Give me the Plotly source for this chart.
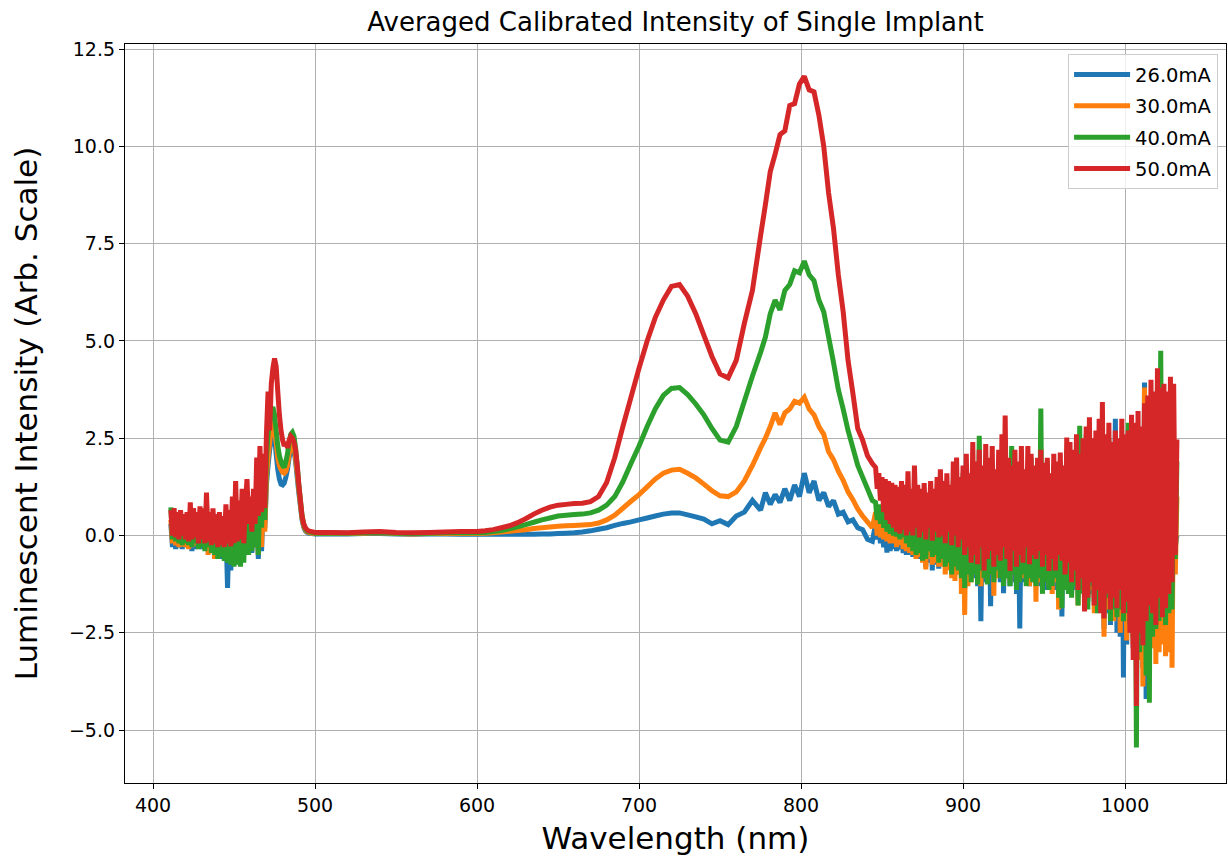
import plotly.graph_objects as go

# Wavelength sampling grid (nm)
wl_blue_edge = list(range(411, 471))          # 411..470, 1 nm
wl_peak = [471, 472, 473, 474, 475, 476, 477, 478, 479, 480, 481, 482, 483, 484,
           485, 486, 487, 488, 489, 490, 491, 492, 493, 494, 495, 496, 498, 500]
wl_flat = [510, 520, 530, 540, 550, 560, 570, 580, 590]
wl_rise = [600, 605, 610, 615, 620, 625, 630, 635, 640, 645, 650, 655, 660, 665,
           670, 675, 680, 685, 690, 695, 700, 705, 710, 715, 720, 725, 730, 735,
           740, 745, 750, 755, 760, 765, 770, 775]
wl_top = [778, 781, 784, 787, 790, 793, 796, 799, 802, 805, 808, 811, 814, 817,
          820, 823, 826, 829, 832, 835, 838, 841, 844]
wl_ir = list(range(846, 1033))               # 846..1032, 1 nm
wavelength = wl_blue_edge + wl_peak + wl_flat + wl_rise + wl_top + wl_ir

series_names = ["26.0mA", "30.0mA", "40.0mA", "50.0mA"]
series_colors = ["#1f77b4", "#ff7f0e", "#2ca02c", "#d62728"]

i_26mA = (
    [0.3, -0.3, 0.25, -0.35, 0.2, -0.3, 0.25, -0.35, 0.2, -0.3,
     0.25, -0.3, 0.3, -0.4, 0.25, -0.35, 0.2, -0.3, 0.25, -0.35,
     0.2, -0.3, 0.3, -0.35, 0.35, -0.4, 0.25, -0.45, 0.2, -0.4,
     0.25, -0.6, 0.3, -0.5, 0.2, -1.35, 0.25, -0.9, 0.3, -0.7,
     0.35, -0.7, 0.4, -0.55, 0.45, -0.5, 0.4, 0.5, -0.4, 0.5,
     -0.45, 0.6, -0.3, 0.7, -0.6, 0.8, -0.4, 0.9, 0.2, 1.3]
    + [1.8, 2.2, 2.5, 2.7, 2.5, 2.1, 1.7, 1.45, 1.32, 1.3, 1.35, 1.5, 1.7, 2.0,
       2.2, 2.3, 2.2, 1.9, 1.5, 1.1, 0.75, 0.4, 0.22, 0.12, 0.08, 0.06, 0.05, 0.04]
    + [0.04, 0.04, 0.05, 0.05, 0.04, 0.03, 0.04, 0.04, 0.03]
    + [0.03, 0.03, 0.03, 0.03, 0.03, 0.03, 0.03, 0.03, 0.04, 0.04,
       0.05, 0.06, 0.07, 0.09, 0.12, 0.16, 0.2, 0.26, 0.31, 0.35,
       0.4, 0.45, 0.5, 0.55, 0.58, 0.58, 0.53, 0.48, 0.42, 0.3,
       0.38, 0.28, 0.5, 0.6, 0.9, 0.65]
    + [1.1, 0.8, 1.05, 0.85, 1.2, 0.9, 1.3, 1.0, 1.6, 1.1,
       1.4, 0.9, 1.1, 0.75, 0.9, 0.55, 0.6, 0.35, 0.4, 0.2,
       0.15, -0.1, -0.15]
    + [0.3, -0.1, 0.25, -0.2, 0.2, -0.3, 0.3, -0.44, 0.25, -0.4,
       0.3, -0.35, 0.2, -0.4, 0.3, -0.36, 0.35, -0.45, 0.3, -0.5,
       0.4, -0.5, 0.35, -0.55, 0.45, -0.5, 0.4, -0.6, 0.5, -0.55,
       0.45, -0.8, 0.5, -0.7, 0.55, -0.9, 0.5, -0.75, 0.6, -0.85,
       0.6, -0.7, 0.55, -0.8, 0.65, -0.75, 0.6, -0.85, 0.7, -0.9,
       0.7, -1.0, 0.65, -0.9, 0.75, -1.1, 0.7, -1.2, 0.8, -1.0,
       0.8, -1.1, 0.7, -1.3, 0.9, -2.2, 0.8, -1.2, 0.7, -1.1,
       0.9, -1.82, 0.8, -1.1, 0.9, -1.0, 1.0, -1.2, 0.8, -1.48,
       1.0, -1.1, 0.9, -1.3, 1.0, -1.2, 1.1, -1.5, 1.0, -2.39,
       0.9, -1.2, 1.1, -1.1, 1.0, -1.3, 0.9, -1.2, 1.1, -1.25,
       1.0, -1.3, 1.2, -1.2, 1.1, -1.4, 1.0, -1.25, 1.2, -1.3,
       1.1, -1.4, 1.3, -1.3, 1.2, -2.08, 1.1, -1.4, 1.3, -1.3,
       1.2, -1.5, 1.4, -1.4, 1.3, -1.6, 1.2, -1.35, 1.4, -1.7,
       1.3, -1.7, 1.5, -1.5, 1.4, -1.8, 1.6, -1.6, 1.5, -1.9,
       1.6, -2.4, 1.7, -2.0, 1.5, -2.3, 1.8, -2.2, 3.0, -2.5,
       1.7, -2.6, 1.9, -3.65, 1.8, -2.8, 2.0, -2.5, 2.2, -2.9,
       2.3, -3.2, 2.5, -3.0, 2.4, -3.4, 3.93, -4.2, 2.6, -3.5,
       2.8, -2.4, 3.0, -2.6, 2.9, -2.2, 3.1, -2.5, 3.0, -2.3,
       2.9, -2.0, 3.0, -1.6, 2.0, -0.3, 0.0]
)

i_30mA = (
    [0.4, -0.2, 0.35, -0.25, 0.3, -0.3, 0.35, -0.28, 0.3, -0.3,
     0.35, -0.35, 0.45, -0.3, 0.4, -0.25, 0.3, -0.3, 0.35, -0.25,
     0.3, -0.3, 0.5, -0.5, 0.4, -0.45, 0.3, -0.6, 0.25, -0.4,
     0.3, -0.45, 0.25, -0.4, 0.35, -0.55, 0.3, -0.5, 0.4, -0.6,
     0.5, -0.5, 0.45, -0.45, 0.6, -0.4, 0.5, 0.7, -0.35, 0.6,
     -0.3, 0.7, -0.2, 0.8, -0.5, 0.9, -0.3, 1.0, 0.1, 1.5]
    + [2.0, 2.4, 2.8, 2.9, 2.7, 2.4, 2.0, 1.8, 1.7, 1.62, 1.6, 1.65, 1.8, 2.1,
       2.3, 2.4, 2.3, 2.0, 1.6, 1.2, 0.8, 0.45, 0.25, 0.15, 0.1, 0.08, 0.06, 0.05]
    + [0.05, 0.05, 0.06, 0.07, 0.05, 0.04, 0.05, 0.05, 0.05]
    + [0.05, 0.06, 0.07, 0.09, 0.11, 0.13, 0.15, 0.18, 0.2, 0.22,
       0.24, 0.25, 0.26, 0.27, 0.28, 0.32, 0.4, 0.52, 0.7, 0.88,
       1.05, 1.25, 1.45, 1.6, 1.68, 1.7, 1.6, 1.48, 1.32, 1.15,
       1.02, 1.0, 1.12, 1.4, 1.8, 2.25]
    + [2.5, 2.8, 3.15, 2.85, 3.15, 3.25, 3.45, 3.4, 3.55, 3.25,
       3.1, 2.8, 2.6, 2.15, 1.95, 1.65, 1.42, 1.12, 0.92, 0.68,
       0.5, 0.35, 0.2]
    + [0.6, 0.0, 0.55, -0.05, 0.5, -0.1, 0.55, -0.15, 0.5, -0.2,
       0.6, -0.2, 0.5, -0.3, 0.65, -0.25, 0.55, -0.35, 0.6, -0.4,
       0.7, -0.45, 0.6, -0.5, 0.75, -0.6, 0.6, -0.55, 0.8, -0.7,
       0.7, -0.87, 0.8, -0.6, 0.7, -0.75, 0.9, -0.7, 0.8, -0.8,
       0.9, -0.8, 1.0, -1.0, 0.85, -0.9, 1.0, -1.1, 0.9, -1.17,
       1.0, -1.0, 1.1, -1.5, 0.9, -2.04, 1.0, -1.3, 1.2, -1.2,
       1.1, -1.0, 1.3, -0.9, 1.0, -1.3, 1.2, -0.95, 1.1, -1.1,
       1.2, -1.0, 1.0, -1.55, 1.3, -1.1, 1.1, -0.9, 1.2, -1.2,
       1.3, -1.0, 1.1, -1.2, 1.4, -0.95, 1.2, -1.3, 1.3, -1.1,
       1.2, -1.1, 1.4, -1.0, 1.1, -1.3, 1.3, -1.05, 1.5, -1.7,
       1.3, -1.2, 1.2, -1.1, 1.4, -1.05, 1.3, -1.3, 1.2, -1.5,
       1.4, -1.2, 1.3, -1.9, 1.5, -1.3, 1.4, -1.1, 1.6, -1.3,
       1.5, -1.4, 1.4, -1.2, 1.6, -1.8, 1.5, -1.3, 1.7, -1.5,
       1.6, -1.6, 1.8, -1.4, 1.6, -2.0, 1.9, -1.5, 1.7, -1.8,
       2.0, -2.6, 1.8, -1.9, 2.1, -1.7, 1.9, -2.2, 2.2, -1.9,
       2.0, -2.5, 2.3, -2.2, 2.1, -2.7, 2.4, -2.4, 2.2, -2.8,
       2.5, -3.0, 2.7, -3.2, 2.6, -3.88, 3.8, -3.0, 2.8, -3.3,
       3.0, -2.9, 3.2, -3.3, 3.1, -3.0, 3.3, -2.8, 3.2, -3.1,
       3.0, -3.0, 3.1, -3.4, 2.0, -1.0, 1.0]
)

i_40mA = (
    [0.72, -0.1, 0.6, -0.15, 0.55, -0.2, 0.5, -0.25, 0.45, -0.2,
     0.5, -0.25, 0.6, -0.3, 0.55, -0.2, 0.5, -0.35, 0.55, -0.3,
     0.5, -0.4, 0.8, -0.3, 0.5, -0.45, 0.55, -0.5, 0.45, -0.6,
     0.5, -0.55, 0.4, -0.65, 0.6, -0.7, 0.55, -0.75, 0.7, -0.8,
     0.8, -0.75, 0.7, -0.8, 0.9, -0.7, 0.6, 1.0, -0.5, 0.8,
     -0.4, 0.9, -0.3, 1.2, -0.5, 1.4, 0.2, 1.6, 0.4, 2.0]
    + [2.6, 2.9, 3.2, 3.3, 3.1, 2.7, 2.3, 2.05, 1.9, 1.8, 1.75, 1.9, 2.1, 2.4,
       2.6, 2.65, 2.55, 2.25, 1.8, 1.3, 0.9, 0.5, 0.3, 0.18, 0.12, 0.1, 0.08, 0.06]
    + [0.06, 0.06, 0.07, 0.08, 0.06, 0.05, 0.06, 0.07, 0.07]
    + [0.07, 0.08, 0.1, 0.13, 0.17, 0.22, 0.28, 0.34, 0.4, 0.45,
       0.5, 0.52, 0.54, 0.55, 0.58, 0.65, 0.78, 1.0, 1.38, 1.85,
       2.3, 2.8, 3.25, 3.6, 3.78, 3.8, 3.62, 3.38, 3.1, 2.75,
       2.45, 2.4, 2.8, 3.45, 4.1, 4.7]
    + [5.1, 5.7, 6.05, 5.8, 6.3, 6.45, 6.8, 6.75, 7.05, 6.7,
       6.55, 6.05, 5.75, 5.1, 4.45, 3.75, 3.25, 2.7, 2.25, 1.8,
       1.5, 1.2, 0.9]
    + [0.85, 0.4, 0.8, 0.3, 0.75, 0.2, 0.7, 0.1, 0.8, 0.04,
       0.7, 0.0, 0.75, -0.03, 0.8, -0.1, 0.9, -0.05, 0.85, -0.2,
       1.0, -0.3, 0.9, -0.4, 1.1, -0.5, 0.8, -0.45, 1.0, -0.65,
       0.9, -0.6, 1.0, -0.4, 0.9, -0.55, 1.1, -0.5, 1.0, -0.7,
       1.2, -0.6, 1.3, -0.8, 1.1, -0.7, 1.2, -1.0, 1.4, -0.8,
       1.5, -0.9, 1.4, -1.1, 1.6, -1.35, 1.3, -1.0, 1.5, -1.2,
       1.8, -1.0, 1.7, -1.26, 2.56, -0.9, 1.6, -1.1, 1.5, -1.26,
       1.6, -1.0, 1.9, -1.2, 1.4, -0.9, 1.7, -1.1, 1.5, -1.3,
       2.0, -1.1, 1.6, -1.3, 2.3, -1.0, 1.5, -1.4, 1.6, -1.2,
       1.9, -1.0, 1.3, -1.3, 1.7, -1.1, 2.0, -1.2, 1.5, -1.3,
       1.7, -1.1, 3.26, -1.5, 1.7, -1.2, 1.9, -1.4, 1.5, -1.3,
       1.8, -1.1, 1.2, -1.6, 1.9, -1.87, 1.6, -1.4, 2.2, -1.5,
       2.1, -1.6, 1.9, -1.3, 2.0, -1.8, 2.82, -1.5, 2.1, -1.7,
       2.6, -1.9, 2.4, -1.3, 2.2, -1.7, 2.5, -2.0, 2.3, -1.8,
       3.0, -2.0, 2.4, -1.6, 2.5, -2.2, 2.1, -1.9, 2.2, -2.1,
       2.3, -1.9, 2.5, -2.2, 2.4, -2.0, 2.9, -2.3, 2.4, -2.6,
       2.5, -5.45, 2.7, -3.0, 2.5, -2.7, 3.0, -3.6, 2.9, -4.3,
       3.5, -2.6, 3.4, -2.4, 4.0, -2.2, 4.75, -2.0, 3.6, -2.3,
       3.4, -2.0, 3.5, -1.9, 2.0, -0.6, 1.9]
)

i_50mA = (
    [0.65, 0.0, 0.7, -0.05, 0.6, -0.1, 0.65, 0.0, 0.55, -0.1,
     0.6, -0.15, 0.85, -0.1, 0.7, -0.05, 0.6, -0.2, 0.75, -0.1,
     0.7, -0.2, 1.1, -0.15, 0.6, -0.25, 0.7, -0.2, 0.55, -0.3,
     0.6, -0.25, 0.5, -0.3, 0.8, -0.2, 0.65, -0.28, 1.0, -0.2,
     1.4, -0.15, 0.9, -0.1, 1.2, -0.2, 0.8, 1.45, 0.3, 1.0,
     0.1, 1.2, 0.3, 2.0, 0.5, 2.3, 0.6, 2.1, 0.7, 2.6]
    + [3.7, 2.7, 3.9, 4.3, 4.55, 4.35, 3.7, 3.1, 2.7, 2.45, 2.3, 2.4, 2.25, 2.45,
       2.55, 2.5, 2.4, 2.2, 1.8, 1.3, 0.9, 0.5, 0.3, 0.2, 0.15, 0.12, 0.1, 0.08]
    + [0.08, 0.07, 0.09, 0.1, 0.08, 0.07, 0.08, 0.09, 0.1]
    + [0.1, 0.12, 0.15, 0.2, 0.25, 0.33, 0.43, 0.55, 0.65, 0.73,
       0.78, 0.8, 0.82, 0.83, 0.87, 1.0, 1.36, 2.0, 2.8, 3.55,
       4.3, 5.0, 5.6, 6.05, 6.4, 6.45, 6.15, 5.7, 5.15, 4.6,
       4.15, 4.05, 4.5, 5.45, 6.3, 7.7]
    + [8.5, 9.35, 9.8, 10.3, 10.4, 11.05, 11.1, 11.6, 11.8, 11.45,
       11.4, 10.8, 10.0, 8.8, 7.9, 6.7, 5.75, 4.5, 3.65, 2.75,
       2.45, 2.05, 1.85]
    + [1.75, 1.2, 1.6, 0.9, 1.5, 0.6, 1.45, 0.4, 1.4, 0.3,
       1.35, 0.2, 1.3, 0.1, 1.25, 0.05, 1.4, 0.15, 1.3, 0.0,
       1.65, 0.1, 1.2, 0.0, 1.8, 0.2, 1.3, -0.05, 1.2, 0.1,
       1.35, -0.1, 1.1, 0.2, 1.4, -0.13, 1.2, 0.1, 1.5, -0.05,
       1.7, 0.0, 1.4, -0.2, 1.6, 0.1, 1.3, -0.25, 1.9, 0.0,
       2.0, -0.3, 1.5, -0.1, 1.8, -0.5, 2.1, -0.3, 1.6, -0.7,
       2.4, -0.5, 1.9, -0.74, 2.2, -0.3, 1.8, -0.9, 2.35, -0.6,
       2.0, -0.4, 2.3, -0.8, 1.7, -0.5, 2.2, -0.65, 2.6, -0.3,
       3.08, -0.6, 2.0, -0.91, 1.8, -0.4, 2.2, -0.8, 1.9, -0.5,
       2.3, -0.7, 1.7, -0.3, 2.3, -0.74, 2.1, -0.5, 1.8, -0.6,
       2.0, -0.4, 2.2, -0.8, 1.87, -0.5, 2.0, -0.91, 1.6, -0.6,
       2.1, -0.9, 1.9, -0.5, 2.13, -0.65, 1.8, -1.0, 2.52, -0.7,
       2.4, -1.2, 2.2, -0.9, 2.6, -1.4, 2.1, -1.1, 2.5, -1.95,
       2.8, -1.6, 3.04, -1.2, 2.5, -1.8, 2.7, -1.4, 3.0, -2.0,
       3.43, -2.13, 2.6, -1.5, 2.9, -1.9, 2.4, -1.6, 2.7, -1.87,
       2.5, -1.4, 3.0, -2.0, 2.6, -1.7, 2.7, -2.5, 3.1, -3.2,
       2.9, -4.38, 3.2, -2.5, 2.8, -2.82, 3.4, -2.2, 3.6, -1.8,
       4.0, -2.0, 3.7, -2.3, 4.3, -1.6, 3.8, -2.1, 3.9, -1.87,
       3.7, -1.5, 4.08, -1.2, 3.9, -0.5, 2.47]
)

intensities = [i_26mA, i_30mA, i_40mA, i_50mA]
for s in intensities:
    assert len(s) == len(wavelength), (len(s), len(wavelength))

x_ticks = [400, 500, 600, 700, 800, 900, 1000]
y_ticks = [-5.0, -2.5, 0.0, 2.5, 5.0, 7.5, 10.0, 12.5]

FONT = "DejaVu Sans"

fig = go.Figure()
for name, color, vals in zip(series_names, series_colors, intensities):
    fig.add_trace(go.Scatter(
        x=wavelength, y=vals, mode="lines", name=name, legendgroup=name,
        line=dict(color=color, width=5, simplify=False),
    ))

axis_common = dict(
    showline=True, mirror=True, linecolor="black", linewidth=1.3,
    showgrid=True, gridcolor="#b0b0b0", gridwidth=1.1,
    zeroline=False, ticks="outside", ticklen=5, tickwidth=1.3,
    tickcolor="black", tickfont=dict(family=FONT, size=19, color="black"),
)

fig.update_layout(
    width=1228, height=858,
    margin=dict(l=125, r=2, t=44, b=75),
    paper_bgcolor="white", plot_bgcolor="white",
    font=dict(family=FONT, color="black"),
    title=dict(
        text="Averaged Calibrated Intensity of Single Implant",
        font=dict(family=FONT, size=26, color="black"),
        x=0.5, xref="paper", xanchor="center",
        y=1 - 22 / 858, yref="container", yanchor="middle",
    ),
    xaxis=dict(
        range=[382.7, 1062.3], tickvals=x_ticks,
        title=dict(text="Wavelength (nm)", font=dict(family=FONT, size=31), standoff=12),
        **axis_common,
    ),
    yaxis=dict(
        range=[-6.36, 12.63], tickvals=y_ticks, tickformat=".1f",
        title=dict(text="Luminescent Intensity (Arb. Scale)", font=dict(family=FONT, size=31), standoff=22),
        **axis_common,
    ),
    legend=dict(
        x=0.9928, y=0.986, xanchor="right", yanchor="top",
        bgcolor="rgba(255,255,255,0.8)", bordercolor="#cccccc", borderwidth=1,
        font=dict(family=FONT, size=19.5, color="black"),
        itemwidth=56, tracegroupgap=3, traceorder="grouped",
    ),
    showlegend=True,
)

fig.write_html("out.html")
